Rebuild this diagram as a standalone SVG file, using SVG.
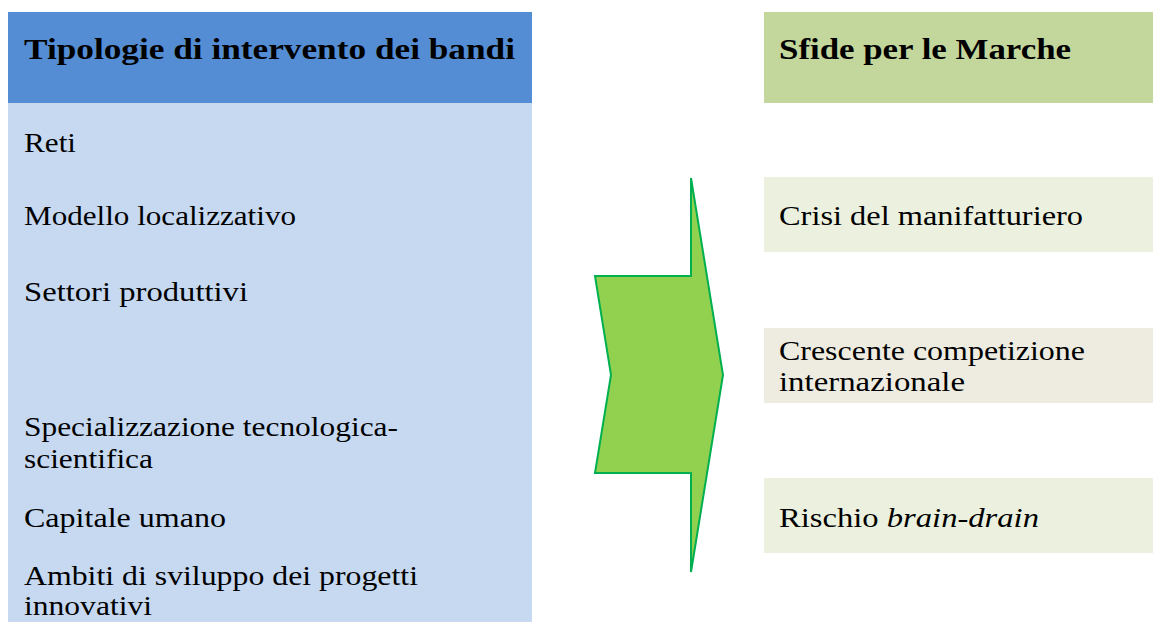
<svg xmlns="http://www.w3.org/2000/svg" width="1153" height="622" viewBox="0 0 1153 622">
<style>
text{font-family:"Liberation Serif","DejaVu Serif",serif;font-size:27px;fill:#000}
.h{font-weight:bold;font-size:30px}
</style>
<rect width="1153" height="622" fill="#fff"/>
<g id="left-header"><rect x="8" y="12" width="524" height="91" fill="#548DD4"/><text class="h" x="24" y="59" textLength="491" lengthAdjust="spacingAndGlyphs">Tipologie di intervento dei bandi</text></g>
<g id="left-body"><rect x="8" y="103" width="524" height="519" fill="#C6D9F1"/>
<text x="24" y="152" textLength="52" lengthAdjust="spacingAndGlyphs">Reti</text>
<text x="24" y="225" textLength="272" lengthAdjust="spacingAndGlyphs">Modello localizzativo</text>
<text x="24" y="301" textLength="224" lengthAdjust="spacingAndGlyphs">Settori produttivi</text>
<text x="24" y="436" textLength="374" lengthAdjust="spacingAndGlyphs">Specializzazione tecnologica-</text>
<text x="24" y="468" textLength="129" lengthAdjust="spacingAndGlyphs">scientifica</text>
<text x="24" y="527" textLength="202" lengthAdjust="spacingAndGlyphs">Capitale umano</text>
<text x="24" y="585" textLength="394" lengthAdjust="spacingAndGlyphs">Ambiti di sviluppo dei progetti</text>
<text x="24" y="615" textLength="128" lengthAdjust="spacingAndGlyphs">innovativi</text>
</g>
<g id="connectors"><polygon points="691,178 723,375 691,572 691,473 595,473 611,375 595,276 691,276" fill="#92D050" stroke="#00B050" stroke-width="2" stroke-linejoin="miter"/></g>
<g id="right-header"><rect x="764" y="12" width="389" height="91" fill="#C3D69B"/><text class="h" x="779" y="59" textLength="292" lengthAdjust="spacingAndGlyphs">Sfide per le Marche</text></g>
<g id="box1"><rect x="764" y="177" width="389" height="75" fill="#EBF1DE"/><text x="779" y="225" textLength="304" lengthAdjust="spacingAndGlyphs">Crisi del manifatturiero</text></g>
<g id="box2"><rect x="764" y="328" width="389" height="75" fill="#EEECE1"/><text x="779" y="360" textLength="306" lengthAdjust="spacingAndGlyphs">Crescente competizione</text><text x="779" y="391" textLength="186" lengthAdjust="spacingAndGlyphs">internazionale</text></g>
<g id="box3"><rect x="764" y="478" width="389" height="75" fill="#EBF1DE"/><text x="779" y="527" textLength="260" lengthAdjust="spacingAndGlyphs">Rischio <tspan font-style="italic">brain-drain</tspan></text></g>
</svg>
